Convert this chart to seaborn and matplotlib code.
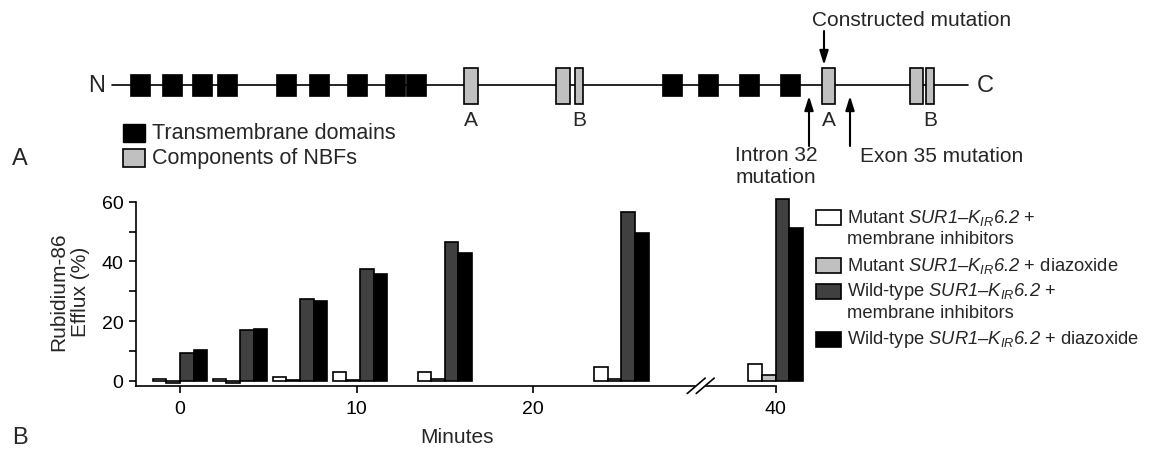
import numpy as np
import pandas as pd
import matplotlib
matplotlib.use("Agg")
import matplotlib.pyplot as plt
from matplotlib.patches import Rectangle
import seaborn as sns

# ---- panel B: rubidium-86 efflux (%) ----
minutes = [0, 3.4, 6.8, 10.2, 15, 25, 40]
mutant_inhibitors = [0.5, 0.5, 1.1, 2.8, 2.8, 4.5, 5.5]
mutant_diazoxide = [-0.6, -0.6, 0.4, 0.4, 0.6, 0.6, 1.9]
wildtype_inhibitors = [9.2, 17.1, 27.5, 37.6, 46.5, 56.5, 60.9]
wildtype_diazoxide = [10.2, 17.4, 26.6, 35.7, 43.0, 49.5, 51.2]

# \mathsf is mapped to an italic face below so that digits stay italic too
series_labels = [
    "Mutant $\\mathsf{SUR1}$–$\\mathsf{K_{IR}6.2}$ +\nmembrane inhibitors",
    "Mutant $\\mathsf{SUR1}$–$\\mathsf{K_{IR}6.2}$ + diazoxide",
    "Wild-type $\\mathsf{SUR1}$–$\\mathsf{K_{IR}6.2}$ +\nmembrane inhibitors",
    "Wild-type $\\mathsf{SUR1}$–$\\mathsf{K_{IR}6.2}$ + diazoxide",
]
series_colors = ["#ffffff", "#c0c0c0", "#404040", "#000000"]
x_ticks = [0, 10, 20, 40]

# ---- panel A: SUR1 domain map (positions along the protein, drawn units) ----
tm_domains = [130, 162, 192, 217, 276, 309, 347, 385, 406, 662, 698, 739, 780]
nbf_start = [464, 556, 575, 822, 910, 926]
nbf_length = [14, 14, 8, 13, 13, 8]
nbf_names = ["A", "", "B", "A", "", "B"]
constructed_site = 824
intron32_site = 809
exon35_site = 850

BREAK_AT, BREAK_GAP = 30, 6.25


def axis_pos(m):
    # compress the axis after the break
    return m if m < BREAK_AT else m - BREAK_GAP


sns.set_theme(style="ticks")
plt.rcParams["font.family"] = ["Liberation Sans", "DejaVu Sans"]
plt.rcParams["mathtext.fontset"] = "custom"
plt.rcParams["mathtext.rm"] = "Liberation Sans"
plt.rcParams["mathtext.it"] = "Liberation Sans:italic"
plt.rcParams["mathtext.sf"] = "Liberation Sans:italic"

W, H = 1153, 460
fig = plt.figure(figsize=(W / 100, H / 100), dpi=100)

# bar chart axes
ax = fig.add_axes([136 / W, 1 - 386.8 / H, (806.6 - 136) / W, (386.8 - 196.9) / H])

df = pd.DataFrame({
    "pos": np.tile([axis_pos(m) for m in minutes], len(series_labels)),
    "efflux": mutant_inhibitors + mutant_diazoxide + wildtype_inhibitors + wildtype_diazoxide,
    "group": np.repeat(series_labels, len(minutes)),
})
sns.barplot(data=df, x="pos", y="efflux", hue="group", hue_order=series_labels,
            palette=dict(zip(series_labels, series_colors)), native_scale=True,
            width=0.91, errorbar=None, edgecolor="black", linewidth=1.2,
            saturation=1, legend=False, ax=ax)

ax.set_xlim(-2.5, 35.5)
ax.set_ylim(-1.7, 62)
ax.set_xlabel("")
ax.set_ylabel("")
ax.set_facecolor("none")
sns.despine(ax=ax)
ax.spines["left"].set_bounds(-1.7, 60)
ax.spines["bottom"].set_bounds(-2.5, axis_pos(40))
for s in ["left", "bottom"]:
    ax.spines[s].set_linewidth(1.2)
    ax.spines[s].set_color("black")
ax.set_yticks([0, 20, 40, 60])
ax.set_yticks([10, 30, 50], minor=True)
ax.set_xticks([axis_pos(t) for t in x_ticks])
ax.set_xticklabels([str(t) for t in x_ticks])
ax.tick_params(which="both", length=5, width=1.2, color="black", labelsize=14, labelcolor="black")
ax.tick_params(axis="y", pad=4)
ax.tick_params(axis="x", pad=5)

# pixel overlay for annotations and the domain map
ov = fig.add_axes([0, 0, 1, 1])
ov.set_xlim(0, W)
ov.set_ylim(H, 0)
ov.axis("off")

# axis break marks
bx = ax.transData.transform((29.5, -1.7))
cx, cy = bx[0], H - bx[1]
ov.plot([cx - 9, cx + 9], [cy + 7.7, cy - 7.7], color="white", lw=5, solid_capstyle="butt")
for dx in (-4.5, 4.5):
    ov.plot([cx + dx - 9, cx + dx + 9], [cy + 7.7, cy - 7.7], color="black", lw=1.2)

# legend for panel B
ly = 218
for lab, col in zip(series_labels, series_colors):
    ov.add_patch(Rectangle((816, ly - 7.5), 25, 15, facecolor=col, edgecolor="black", lw=1.2))
    lines = lab.split("\n")
    for i, line in enumerate(lines):
        ov.text(847, ly + 22 * i, line, fontsize=13.2, va="center", ha="left")
    ly += 22 * (len(lines) - 1) + 26

fig.text(70 / W, 1 - 292 / H, "Rubidium-86\nEfflux (%)", rotation=90, ha="center",
         va="center", fontsize=15, multialignment="center")
ov.text(457, 438, "Minutes", fontsize=15, ha="center", va="center")
ov.text(20, 438, "B", fontsize=17, ha="center", va="center")
ov.text(20, 159, "A", fontsize=17, ha="center", va="center")

# panel A domain map
line_y = 86
ov.plot([112, 968], [line_y, line_y], color="black", lw=1.2, zorder=1)
ov.text(97, line_y, "N", fontsize=17, ha="center", va="center")
ov.text(977, line_y, "C", fontsize=17, ha="left", va="center")
for x0 in tm_domains:
    ov.add_patch(Rectangle((x0, line_y - 11), 20, 22, facecolor="black", edgecolor="black", lw=0.5, zorder=2))
for x0, w, name in zip(nbf_start, nbf_length, nbf_names):
    ov.add_patch(Rectangle((x0, line_y - 17), w, 36, facecolor="#c0c0c0", edgecolor="black", lw=1.2, zorder=2))
    if name:
        ov.text(x0 + w / 2, 120, name, fontsize=15, ha="center", va="center")

ov.add_patch(Rectangle((123, 125), 22, 18, facecolor="black", edgecolor="black", lw=1.0))
ov.add_patch(Rectangle((123, 150), 22, 18, facecolor="#c0c0c0", edgecolor="black", lw=1.2))
ov.text(152, 134, "Transmembrane domains", fontsize=15.5, ha="left", va="center")
ov.text(152, 159, "Components of NBFs", fontsize=15.5, ha="left", va="center")

arrow = dict(arrowstyle="-|>,head_length=0.7,head_width=0.22", color="black", lw=1.5, shrinkA=0, shrinkB=0)
ov.annotate("", xy=(constructed_site, 66), xytext=(constructed_site, 32), arrowprops=arrow)
ov.annotate("", xy=(intron32_site, 97), xytext=(intron32_site, 147), arrowprops=arrow)
ov.annotate("", xy=(exon35_site, 97), xytext=(exon35_site, 147), arrowprops=arrow)
ov.text(812, 21, "Constructed mutation", fontsize=15, ha="left", va="center")
ov.text(776, 167, "Intron 32\nmutation", fontsize=15, ha="center", va="center", linespacing=1.2)
ov.text(860, 157, "Exon 35 mutation", fontsize=15, ha="left", va="center")

fig.savefig("out.png", dpi=100, facecolor="white")
